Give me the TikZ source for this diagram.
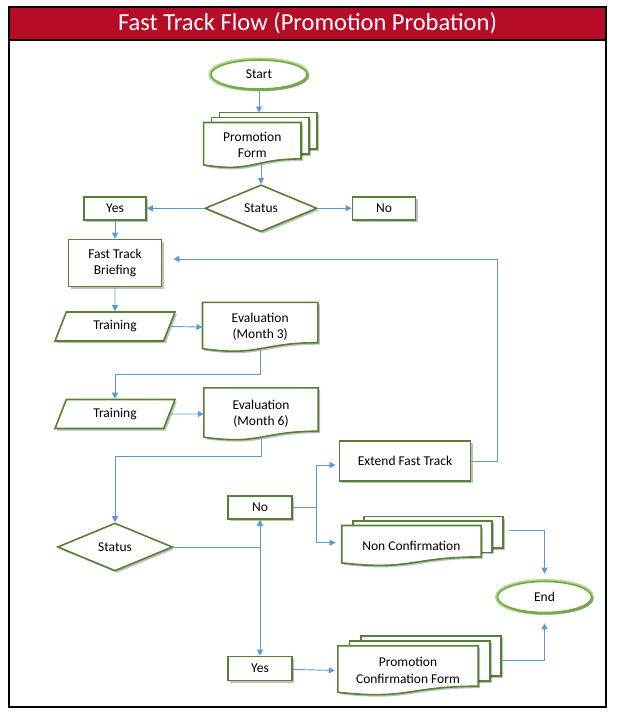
\documentclass[tikz,border=0pt]{standalone}
\usepackage{fontspec}
\setmainfont{Carlito}
\usetikzlibrary{shapes.geometric,arrows.meta,shadows,backgrounds,calc}

\definecolor{titlered}{HTML}{B70C27}
\definecolor{boxgreen}{HTML}{548235}
\definecolor{termgreen}{HTML}{6FAD45}
\definecolor{glowgreen}{HTML}{A9D98A}
\definecolor{flowblue}{HTML}{5B9BD5}

\tikzset{
  base/.style={font=\fontsize{13.5}{16.3}\selectfont, align=center, inner sep=2pt},
  boxshadow/.style={drop shadow={shadow xshift=2pt, shadow yshift=-2pt, opacity=.25, fill=black}},
  procbox/.style={base, rectangle, draw=boxgreen, line width=1.6pt, fill=white, boxshadow},
  terminal/.style={base, ellipse, draw=termgreen, line width=1.6pt, fill=white,
    preaction={draw=glowgreen, line width=5pt},
    minimum width=96pt, minimum height=29pt, boxshadow},
  decision/.style={base, diamond, draw=boxgreen, line width=1.6pt, fill=white,
    inner sep=0pt, boxshadow},
  inout/.style={base, trapezium, trapezium left angle=54, trapezium right angle=126,
    trapezium stretches body, draw=boxgreen, line width=1.6pt, fill=white,
    minimum width=120pt, minimum height=29pt, boxshadow},
  docnode/.style={base, rectangle, draw=none},
  docline/.style={draw=boxgreen, line width=1.6pt, fill=white, boxshadow},
  titlebar/.style={fill=titlered, draw=black, line width=2pt, text=white,
    font=\fontsize{24.5}{28}\selectfont, minimum width=597pt, minimum height=33pt, inner sep=0pt},
  link/.style={draw=flowblue, line width=0.9pt},
  flow/.style={link, -{Triangle[length=6pt,width=6pt]}}
}

% document outline with the wavy bottom edge
\newcommand{\docoutline}[1]{%
  \draw[docline] (#1.north west) -- (#1.north east)
    -- ([yshift=9pt]#1.south east)
    .. controls ([yshift=9pt]#1.south) and ([yshift=-5pt]#1.south)
    .. ([yshift=3pt]#1.south west) -- cycle;}
% one sheet behind a document
\newcommand{\backsheet}[3]{%
  \draw[docline] ([xshift=#2,yshift=#3]#1.north west)
    rectangle ([xshift=#2,yshift=9pt+#3]#1.south east);}
\newcommand{\singledoc}[1]{%
  \begin{pgfonlayer}{background}
    \docoutline{#1}
  \end{pgfonlayer}}
\newcommand{\multidoc}[3]{%
  \begin{pgfonlayer}{background}
    \backsheet{#1}{2*#2}{2*#3}
    \backsheet{#1}{#2}{#3}
    \docoutline{#1}
  \end{pgfonlayer}}

\begin{document}
\begin{tikzpicture}[x=1pt, y=-1pt]
  \useasboundingbox (0,0) rectangle (617,715);
  \draw[line width=2.5pt] (9,7) rectangle (606,707);
  \node[titlebar] (title) at (307.5,23.5) {Fast Track Flow (Promotion Probation)};

  % upper part
  \node[terminal] (start) at (259,74.5) {Start};
  \node[docnode, minimum width=97pt, minimum height=45pt] (pform) at (252.3,145.2) {Promotion\\Form};
  \multidoc{pform}{8pt}{5pt}
  \node[decision, minimum width=112pt, minimum height=47pt] (status1) at (261,208.3) {Status};
  \node[procbox, minimum width=62pt, minimum height=23pt] (yes1) at (115,208.3) {Yes};
  \node[procbox, minimum width=63pt, minimum height=23pt] (no1) at (384,208.3) {No};
  \node[procbox, minimum width=93pt, minimum height=47pt] (ftb) at (115,263) {Fast Track\\Briefing};

  % training and evaluations
  \node[inout] (train1) at (115,326.5) {Training};
  \node[docnode, minimum width=115pt, minimum height=49pt] (eval3) at (260.2,327) {Evaluation\\(Month 3)};
  \singledoc{eval3}
  \node[inout] (train2) at (115,414) {Training};
  \node[docnode, minimum width=114pt, minimum height=52pt] (eval6) at (261,414) {Evaluation\\(Month 6)};
  \singledoc{eval6}

  % final decision
  \node[decision, minimum width=115pt, minimum height=48pt] (status2) at (115,547) {Status};
  \node[procbox, minimum width=64pt, minimum height=23pt] (no2) at (260,507.5) {No};
  \node[procbox, minimum width=64pt, minimum height=24pt] (yes2) at (260,668.5) {Yes};
  \node[procbox, minimum width=131pt, minimum height=40pt] (eft) at (405,461) {Extend Fast Track};
  \node[docnode, minimum width=139pt, minimum height=40pt] (nc) at (411.4,545.7) {Non Confirmation};
  \multidoc{nc}{11pt}{4.5pt}
  \node[docnode, minimum width=140pt, minimum height=49pt] (pcf) at (408,670.5) {Promotion\\Confirmation Form};
  \multidoc{pcf}{11.5pt}{5pt}
  \node[terminal, minimum width=94pt, minimum height=31pt] (end) at (544.5,597) {End};

  % connectors
  \coordinate (pftop) at ([yshift=10pt]pform.north);
  \draw[flow] (start) -- (start |- pftop);
  \draw[flow] ($(status1.north |- pform.south)+(0,-4)$) -- (status1);
  \draw[flow] (status1.west) -- (yes1.east);
  \draw[flow] (status1.east) -- (no1.west);
  \draw[flow] (yes1) -- (ftb);
  \draw[flow] (ftb) -- (train1);
  \draw[flow] (train1.east) -- (eval3.west);
  \draw[flow] ($(eval3.south)+(0,-3)$) -- ++(0,26) -| (train2.north);
  \draw[flow] (train2.east) -- (eval6.west);
  \draw[flow] ($(eval6.south)+(0,-3)$) -- ++(0,19) -| (status2.north);

  \coordinate (split2) at (status2 -| no2);
  \draw[link] (status2.east) -- (split2);
  \draw[flow] (split2) -- (no2);
  \draw[flow] (split2) -- (yes2);
  \draw[link] (no2.east) -- ++(24,0) coordinate (split3);
  \draw[flow] (split3) |- ([xshift=-3pt,yshift=-4pt]eft.west);
  \draw[flow] (split3) |- ([xshift=-6pt,yshift=3pt]nc.west);
  \draw[flow] (eft.east) -- ++(26,0) |- ([xshift=11pt,yshift=4pt]ftb.east);
  \draw[flow] ([xshift=28pt,yshift=15pt]nc.east) -| ([yshift=7pt]end.north);
  \draw[flow] (yes2) -- ([xshift=-3pt]pcf.west);
  \draw[flow] ([xshift=24pt,yshift=10pt]pcf.east) -| ([yshift=-10pt]end.south);
\end{tikzpicture}
\end{document}
